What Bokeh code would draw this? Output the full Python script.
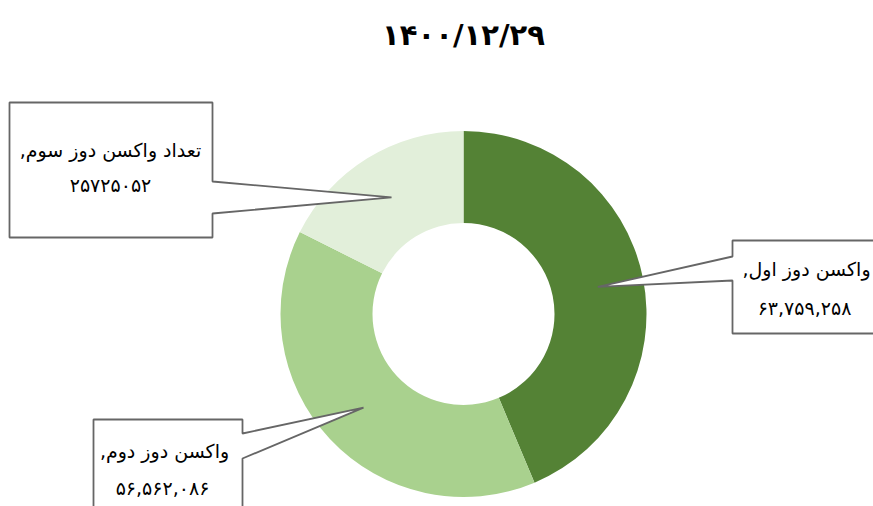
import math
from bokeh.plotting import figure
from bokeh.models import Range1d, ColumnDataSource
from bokeh.core.properties import value
from bokeh.embed import file_html
from bokeh.resources import INLINE

# ---------------- data ----------------
title_text = "۱۴۰۰/۱۲/۲۹"
categories = ["واکسن دوز اول", "واکسن دوز دوم", "تعداد واکسن دوز سوم"]
counts = [63759258, 56562086, 25725052]
use_grouping = [True, True, False]
colors = ["#548235", "#A9D18E", "#E2EFDA"]

# ---------------- layout (reference pixel space) ----------------
W, H = 873, 506

def Y(y):  # reference pixel y -> data y (y up)
    return H - y

CX, CY = 463, Y(313.5)
R_OUT, R_IN = 183, 91
FONT = "DejaVu Sans"
LINE = "#666666"

p = figure(width=W, height=H, output_backend="svg", toolbar_location=None,
           x_range=Range1d(0, W), y_range=Range1d(0, H),
           min_border=0, outline_line_color=None, background_fill_color="white")
p.axis.visible = False
p.grid.visible = False

# ---------------- donut ----------------
total = float(sum(counts))
fracs = [c / total for c in counts]
starts, ends, mids = [], [], []
cum = 0.0
for f in fracs:
    a0 = math.pi / 2 - 2 * math.pi * cum
    a1 = math.pi / 2 - 2 * math.pi * (cum + f)
    starts.append(a0)
    ends.append(a1)
    mids.append((a0 + a1) / 2)
    cum += f

src = ColumnDataSource(dict(x=[CX] * 3, y=[CY] * 3, start=starts, end=ends, color=colors))
p.annular_wedge(x="x", y="y", inner_radius=R_IN, outer_radius=R_OUT,
                start_angle="start", end_angle="end", direction="clock",
                fill_color="color", line_color=None, source=src)

# ---------------- callouts ----------------
r_mid = (R_IN + R_OUT) / 2
tips = [(CX + r_mid * math.cos(a), CY + r_mid * math.sin(a)) for a in mids]

def callout(i):
    tx, ty = tips[i]
    if i == 0:
        pts = [(732, 240), (880, 240), (880, 333), (732, 333), (732, 280), None, (732, 256)]
    elif i == 1:
        pts = [(93, 419), (242, 419), (242, 433), None, (242, 458), (242, 515), (93, 515)]
    else:
        pts = [(9, 102), (212, 102), (212, 181), None, (212, 213), (212, 237), (9, 237)]
    xs, ys = [], []
    for pt in pts:
        if pt is None:
            xs.append(tx); ys.append(ty)
        else:
            xs.append(pt[0]); ys.append(Y(pt[1]))
    return xs, ys

cx_list, cy_list = [], []
for i in range(3):
    xs, ys = callout(i)
    cx_list.append(xs); cy_list.append(ys)
p.patches(cx_list, cy_list, fill_color="white", line_color=LINE, line_width=1.8)

# ---------------- texts ----------------
fa = str.maketrans("0123456789", "۰۱۲۳۴۵۶۷۸۹")
num_texts = [("{:,}".format(c) if g else str(c)).translate(fa) for c, g in zip(counts, use_grouping)]
name_texts = [c + ",\u200f" for c in categories]

label_pos = [((806, 268), (804, 307)), ((164, 450), (162, 487)), ((110, 149), (110, 184))]
tx1 = [lp[0][0] for lp in label_pos]
ty1 = [Y(lp[0][1]) for lp in label_pos]
tx2 = [lp[1][0] for lp in label_pos]
ty2 = [Y(lp[1][1]) for lp in label_pos]

p.text(x=tx1, y=ty1, text=name_texts, text_font=value(FONT), text_font_size="19px",
       text_align="center", text_baseline="middle", text_color="#000000")
p.text(x=tx2, y=ty2, text=num_texts, text_font=value(FONT), text_font_size="19px",
       text_align="center", text_baseline="middle", text_color="#000000")

p.text(x=[463], y=[Y(34)], text=[title_text], text_font=value(FONT), text_font_size="29px",
       text_font_style="bold", text_align="center", text_baseline="middle", text_color="#000000")

open("out.html", "w").write(file_html(p, INLINE))
